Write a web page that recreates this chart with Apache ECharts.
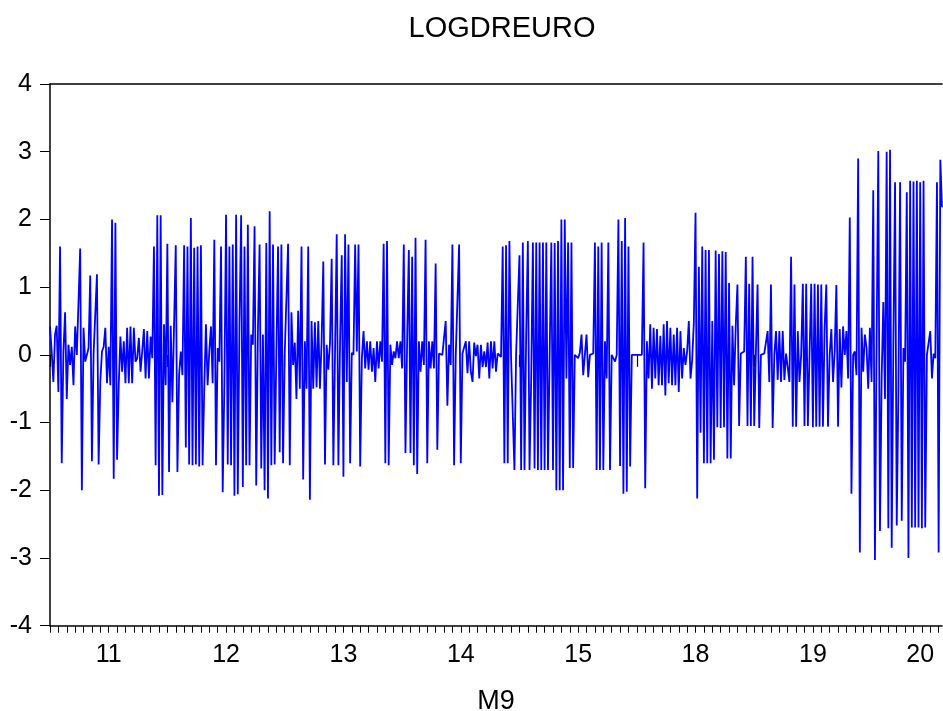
<!DOCTYPE html>
<html>
<head>
<meta charset="utf-8">
<script src="https://cdn.jsdelivr.net/npm/echarts@6/dist/echarts.min.js"></script>
<style>
  html, body { margin: 0; padding: 0; background: #ffffff; }
  #chart { width: 943px; height: 711px; }
</style>
</head>
<body>
<div id="chart"></div>
<script>
// LOGDREURO: log-difference series, observations grouped by period (11 ... 20)
const chartTitle = 'LOGDREURO';
const xAxisTitle = 'M9';
const periodLabels = ['11', '12', '13', '14', '15', '18', '19', '20'];
const yTickValues = [-4, -3, -2, -1, 0, 1, 2, 3, 4];

// observations per period block, one value per observation
const p11 = [
  0.42, 0.05, -0.4, 0.3, 0.43, -0.55, 1.6, -1.6, 0.05, 0.63,
  -0.65, 0.15, -0.15, 0.12, -0.45, 0.42, 0.0, 0.02, 1.57, -2.0,
  0.4, -0.1, -0.12, 0.1, 1.17, -1.57, 0.02, 0.0, 1.19, -1.62,
  -0.4, 0.05, 0.12, 0.4, -0.42, 0.12, -0.45, 2.0, -1.83, 1.95,
  -1.55, -0.45, 0.27, -0.25, 0.2, -0.42, 0.4, -0.42, 0.42, -0.42,
  0.4, -0.1, -0.05, 0.25, -0.25, 0.05, 0.38, -0.35, 0.35, -0.35,
  0.27, -0.05, 1.6, -1.63, 2.06, -2.08, 2.06, -2.07, 0.45, -0.45
];
const p12 = [
  1.64, -1.73, 0.43, -0.7, 0.45, 1.62, -1.73, -0.3, 0.05, -0.3,
  1.62, -1.37, 1.6, -1.62, 2.02, -1.63, 1.58, -1.62, 1.6, -1.65,
  1.62, -1.63, -0.5, 0.45, -0.45, 0.05, 0.42, -0.42, 1.7, -1.63,
  0.1, -0.1, 1.6, -2.03, -0.45, 2.07, -1.62, 1.6, -1.63, 1.63,
  -2.08, 2.07, -2.06, 0.45, 2.06, -1.95, 1.6, -1.63, 1.92, -1.63,
  0.3, 0.15, 1.9, -1.93, 0.35, 1.63, -1.68, 0.3, -2.0, 1.65,
  -2.12, 2.12, -1.63, 1.63, -1.62, 0.0, 1.6, -1.44, 1.63, -1.6
];
const p13 = [
  0.02, 0.0, 1.64, -1.63, 0.63, -0.15, 0.18, -0.65, 0.65, -0.5,
  1.6, -1.84, 0.2, -0.5, 1.6, -2.14, 0.5, -0.5, 0.48, -0.48,
  0.5, -0.5, 0.2, 1.38, -1.62, 0.15, -0.22, 0.18, 1.42, -1.63,
  0.03, 1.78, -1.63, 0.2, 1.47, -1.8, 1.78, -0.4, 1.63, -1.6,
  0.03, 0.0, 1.63, 0.05, 1.63, -1.65, -0.05, 0.35, -0.2, 0.2,
  -0.22, 0.2, -0.25, 0.1, -0.4, 0.2, -0.2, 0.2, -0.1, 1.64,
  -1.6, 1.68, -1.63, 0.15, -0.15, 0.05, -0.05, 0.2, -0.05, 0.2
];
const p14 = [
  -0.2, 1.63, -1.45, 0.2, 1.55, -1.45, 1.45, -1.63, 1.73, -1.76,
  0.2, -0.25, 0.2, -0.15, 1.7, -1.6, 0.2, -0.2, 0.2, -0.2,
  1.35, -1.4, 0.02, 0.0, 0.0, 0.25, 0.5, -0.75, 0.15, -0.15,
  1.63, -1.63, 0.0, 0.0, 1.63, -1.6, 0.02, 0.0, 0.2, -0.27,
  0.2, -0.25, -0.4, 0.18, -0.02, 0.15, -0.35, 0.15, -0.18, 0.05,
  -0.18, 0.18, -0.35, 0.2, -0.2, 0.2, -0.25, 0.02, 0.0, -0.03,
  1.6, -1.6, 1.62, -1.6, 1.68, -0.05, -0.03, -1.7, 0.02, 0.0
];
const p15 = [
  1.47, -1.7, 1.66, -1.7, 0.3, 1.68, -1.7, -0.35, 1.66, -1.68,
  1.66, -1.7, 1.66, -1.7, 1.66, -1.7, 1.66, -1.7, 0.0, 1.66,
  -1.7, 1.65, -2.0, 1.68, -2.0, 2.0, -2.0, 2.0, -0.35, 1.66,
  -1.67, 1.66, -1.67, 0.0, 0.0, -0.05, 0.03, 0.3, -0.3, 0.0,
  0.3, -0.33, 0.0, 0.0, 0.02, 1.66, -1.7, 1.6, -1.7, 1.66,
  -1.7, 0.2, -0.35, 1.66, -1.7, 0.0, 0.0, -0.1, 0.0, 2.0,
  -1.64, 1.68, -2.05, 2.02, -2.02, 1.6, -1.65, 0.0, 0.0, 0.0
];
const p18 = [
  0.0, 0.0, 0.0, 0.0, 1.66, -1.97, 0.2, -0.35, 0.45, -0.5,
  0.4, -0.35, 0.38, -0.45, 0.28, -0.45, 0.45, -0.6, 0.5, -0.42,
  0.4, -0.45, 0.3, -0.45, 0.4, -0.55, 0.35, -0.35, 0.1, -0.15,
  0.05, 0.5, -0.35, -0.08, 0.48, 2.1, -2.12, 1.3, -1.15, 1.6,
  -1.6, 1.55, -1.6, 1.55, -1.6, 0.5, -1.55, 1.54, -1.07, 1.49,
  -1.08, 1.53, -1.07, 1.52, -1.53, 1.06, -1.53, 0.43, -0.45, 0.43,
  1.04, -1.05, 0.02, 0.0, 0.05, 1.45, -1.05, 1.05, -1.05, 1.45
];
const p19 = [
  -1.05, 0.03, 1.04, -1.08, 0.0, 0.0, 0.02, 0.0, 0.35, -0.4,
  1.04, -1.08, 0.0, 0.35, -0.37, 0.35, -0.4, 0.35, -0.37, 0.02,
  0.0, -0.4, 1.45, -1.06, 1.04, -1.06, 0.35, -0.4, 0.0, 1.05,
  -1.05, 1.05, -1.05, 0.0, 1.05, -1.07, 1.05, -1.06, 1.04, -1.06,
  1.04, -1.06, 0.4, 1.04, -1.06, 0.0, 0.38, -0.4, 0.05, 1.03,
  -1.06, 0.38, -0.48, 0.42, 0.0, 0.35, -0.35, 2.03, -2.05, 0.0,
  0.05, -0.3, 2.9, -2.92, 0.4, -0.25, 0.3, 0.1, -0.5, 0.4
];
const p20 = [
  -0.4, 2.43, -3.03, 0.2, 3.01, -2.6, -0.35, 0.78, -0.65, 3.0,
  -2.56, 3.03, -2.85, 0.2, 2.55, -2.52, -0.55, 2.55, -2.45, 0.1,
  -0.1, 2.4, -3.0, 2.57, -2.55, 2.56, -2.55, 2.57, -2.55, 2.55,
  -2.56, 2.57, -2.55, 0.0, 0.02, 0.35, -0.35, 0.02, -0.05, 2.55,
  -2.92, 2.88, 2.18
];

const logdreuro = [].concat(p11, p12, p13, p14, p15, p18, p19, p20);

// axis bookkeeping (observation index units)
const obsPerPeriod = 70;
const obsPerMinorTick = 5;
const lastObs = logdreuro.length - 1;

const minorTicks = [];
for (let v = 0; v <= lastObs; v += obsPerMinorTick) minorTicks.push(v);
const majorTicks = periodLabels.map((_, k) => k * obsPerPeriod);
// period labels sit mid-block; the final, partial block keeps its label inside the frame
const labelAt = periodLabels.map((_, k) =>
  Math.min(k * obsPerPeriod + obsPerPeriod / 2, lastObs - 13));

const FONT = '"Liberation Sans", Arial, sans-serif';
const BLACK = '#000000';

const chart = echarts.init(document.getElementById('chart'), null, { renderer: 'canvas' });

chart.setOption({
  animation: false,
  backgroundColor: '#ffffff',
  title: {
    text: chartTitle,
    left: 502,
    top: 14,
    textAlign: 'center',
    padding: 0,
    textStyle: { fontFamily: FONT, fontSize: 29, fontWeight: 'normal', color: BLACK }
  },
  grid: { left: 50, right: 1, top: 84, bottom: 85.3, containLabel: false, outerBoundsMode: 'none' },
  xAxis: [
    {
      type: 'value',
      min: 0,
      max: lastObs,
      position: 'bottom',
      name: xAxisTitle,
      nameLocation: 'middle',
      nameGap: 62,
      nameTextStyle: { fontFamily: FONT, fontSize: 27, color: BLACK },
      axisLine: { show: true, onZero: false, lineStyle: { color: BLACK, width: 1.5 } },
      axisTick: { show: true, inside: false, length: 7, customValues: minorTicks,
        lineStyle: { color: BLACK, width: 1 } },
      axisLabel: {
        show: true,
        customValues: labelAt,
        margin: 17,
        fontFamily: FONT, fontSize: 25, color: BLACK,
        formatter: (v) => {
          const k = labelAt.indexOf(v);
          return k >= 0 ? periodLabels[k] : '';
        }
      },
      splitLine: { show: false }
    },
    {
      type: 'value',
      min: 0,
      max: lastObs,
      position: 'bottom',
      axisLine: { show: false },
      axisTick: { show: true, inside: false, length: 12, customValues: majorTicks,
        lineStyle: { color: BLACK, width: 1.2 } },
      axisLabel: { show: false },
      splitLine: { show: false }
    },
    {
      type: 'value',
      min: 0,
      max: lastObs,
      position: 'top',
      axisLine: { show: true, onZero: false, lineStyle: { color: BLACK, width: 1.5 } },
      axisTick: { show: false },
      axisLabel: { show: false },
      splitLine: { show: false }
    }
  ],
  yAxis: {
    type: 'value',
    min: yTickValues[0],
    max: yTickValues[yTickValues.length - 1],
    interval: 1,
    position: 'left',
    axisLine: { show: true, onZero: false, lineStyle: { color: BLACK, width: 1.5 } },
    axisTick: { show: true, inside: false, length: 10, lineStyle: { color: BLACK, width: 1 } },
    axisLabel: { margin: 18, fontFamily: FONT, fontSize: 25, color: BLACK },
    splitLine: { show: false }
  },
  series: [
    {
      name: chartTitle,
      type: 'line',
      xAxisIndex: 0,
      data: logdreuro.map((v, i) => [i, v]),
      showSymbol: false,
      symbol: 'none',
      sampling: null,
      lineStyle: { color: '#0000ff', width: 1.8 },
      clip: true
    }
  ]
});
</script>
</body>
</html>
